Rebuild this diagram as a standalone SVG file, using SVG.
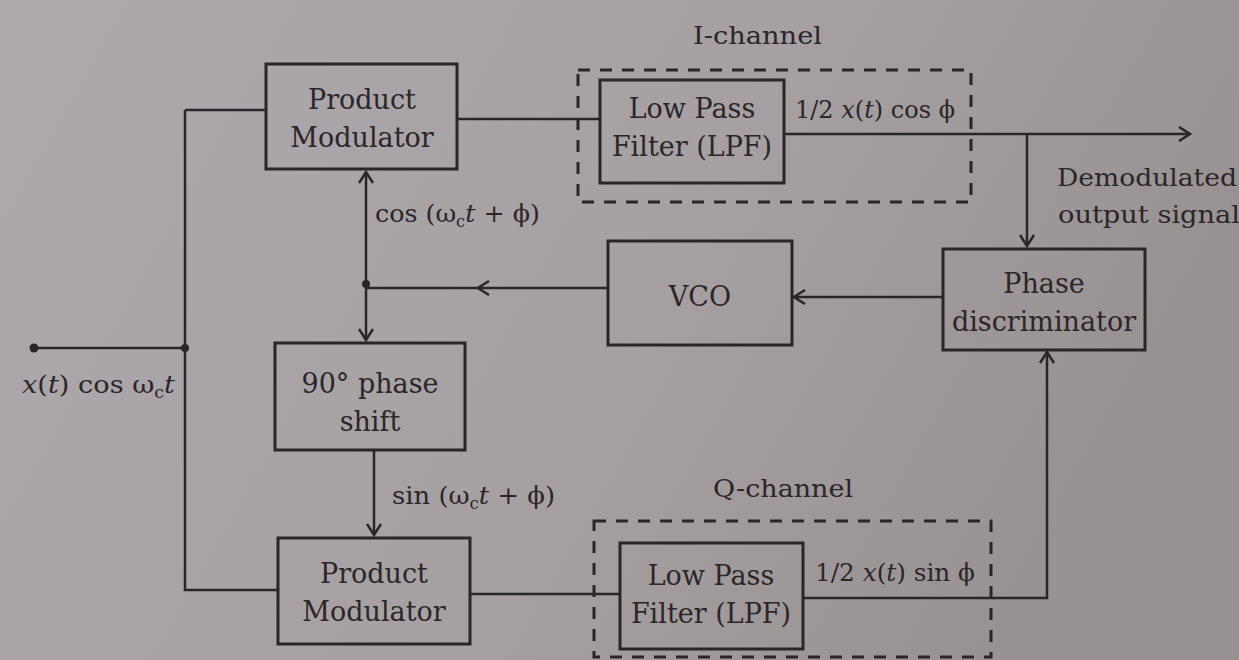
<svg xmlns="http://www.w3.org/2000/svg" width="1239" height="660" viewBox="0 0 1239 660">
<defs>
<linearGradient id="bg" x1="0" y1="0" x2="1" y2="0.3">
<stop offset="0" stop-color="#aea9ad"/>
<stop offset="0.6" stop-color="#a6a0a2"/>
<stop offset="1" stop-color="#999293"/>
</linearGradient>
<marker id="arr" viewBox="-12 -8 14 16" refX="0" refY="0" markerWidth="14" markerHeight="16" markerUnits="userSpaceOnUse" orient="auto-start-reverse">
<path d="M-11,-7 L0,0 L-11,7" fill="none" stroke="#2a2526" stroke-width="2.5"/>
</marker>
<style>
.box{fill:none;stroke:#2a2526;stroke-width:3}
.dash{fill:none;stroke:#2a2526;stroke-width:3;stroke-dasharray:12 10}
.ln{fill:none;stroke:#2a2526;stroke-width:2.5}
.t{font-family:"DejaVu Serif","Liberation Serif",serif;font-size:27px;fill:#2b2628;text-anchor:middle}
.lb{font-family:"DejaVu Serif","Liberation Serif",serif;font-size:25px;fill:#2b2628}
.it{font-style:italic}
.sub{font-size:16px}
</style>
</defs>
<rect x="0" y="0" width="1239" height="660" fill="url(#bg)"/>

<g id="connectors">
<path class="ln" d="M185,110 H266"/>
<path class="ln" d="M185,110 V590 H278"/>
<path class="ln" d="M34,348 H185"/>
<circle cx="34" cy="348" r="4.5" fill="#2a2526"/>
<circle cx="185" cy="348" r="4" fill="#2a2526"/>
<path class="ln" d="M457,119 H600"/>
<path class="ln" d="M784,134 H1190" marker-end="url(#arr)"/>
<path class="ln" d="M1027,134 V246" marker-end="url(#arr)"/>
<path class="ln" d="M943,297 H794" marker-end="url(#arr)"/>
<path class="ln" d="M608,288 H478" marker-end="url(#arr)"/>
<path class="ln" d="M480,288 H366"/>
<circle cx="366" cy="284" r="4" fill="#2a2526"/>
<path class="ln" d="M366,172 V340" marker-start="url(#arr)" marker-end="url(#arr)"/>
<path class="ln" d="M374,451 V535" marker-end="url(#arr)"/>
<path class="ln" d="M470,594 H620"/>
<path class="ln" d="M803,598 H1047 V352" marker-end="url(#arr)"/>
</g>

<g id="i-channel">
<rect class="dash" x="578" y="70" width="393" height="132"/>
<text class="lb" x="693" y="44" textLength="129" lengthAdjust="spacingAndGlyphs">I-channel</text>
</g>
<g id="q-channel">
<rect class="dash" x="594" y="521" width="397" height="136"/>
<text class="lb" x="713" y="497" textLength="140" lengthAdjust="spacingAndGlyphs">Q-channel</text>
</g>

<g id="pm-top">
<rect class="box" x="266" y="64" width="191" height="105"/>
<text class="t" x="362" y="109">Product</text>
<text class="t" x="362" y="147">Modulator</text>
</g>
<g id="lpf-i">
<rect class="box" x="600" y="80" width="184" height="103"/>
<text class="t" x="692" y="118">Low Pass</text>
<text class="t" x="692" y="156">Filter (LPF)</text>
</g>
<g id="vco">
<rect class="box" x="608" y="241" width="184" height="104"/>
<text class="t" x="700" y="306">VCO</text>
</g>
<g id="phase-disc">
<rect class="box" x="943" y="249" width="202" height="101"/>
<text class="t" x="1044" y="293">Phase</text>
<text class="t" x="1044" y="331">discriminator</text>
</g>
<g id="phase-shift">
<rect class="box" x="275" y="343" width="190" height="107"/>
<text class="t" x="370" y="393">90° phase</text>
<text class="t" x="370" y="431">shift</text>
</g>
<g id="pm-bottom">
<rect class="box" x="278" y="538" width="192" height="106"/>
<text class="t" x="374" y="583">Product</text>
<text class="t" x="374" y="621">Modulator</text>
</g>
<g id="lpf-q">
<rect class="box" x="620" y="543" width="183" height="106"/>
<text class="t" x="711" y="585">Low Pass</text>
<text class="t" x="711" y="623">Filter (LPF)</text>
</g>

<g id="labels">
<text class="lb" x="795" y="118" textLength="160" lengthAdjust="spacingAndGlyphs">1/2 <tspan class="it">x</tspan>(<tspan class="it">t</tspan>) cos ϕ</text>
<text class="lb" x="1057" y="186" textLength="180" lengthAdjust="spacingAndGlyphs">Demodulated</text>
<text class="lb" x="1058" y="223" textLength="182" lengthAdjust="spacingAndGlyphs">output signal</text>
<text class="lb" x="375" y="222" textLength="165" lengthAdjust="spacingAndGlyphs">cos (ω<tspan class="sub" dy="5">c</tspan><tspan class="it" dy="-5">t</tspan> + ϕ)</text>
<text class="lb" x="392" y="504" textLength="163" lengthAdjust="spacingAndGlyphs">sin (ω<tspan class="sub" dy="5">c</tspan><tspan class="it" dy="-5">t</tspan> + ϕ)</text>
<text class="lb" x="22" y="393" textLength="153" lengthAdjust="spacingAndGlyphs"><tspan class="it">x</tspan>(<tspan class="it">t</tspan>) cos ω<tspan class="sub" dy="5">c</tspan><tspan class="it" dy="-5">t</tspan></text>
<text class="lb" x="815" y="581" textLength="160" lengthAdjust="spacingAndGlyphs">1/2 <tspan class="it">x</tspan>(<tspan class="it">t</tspan>) sin ϕ</text>
</g>
</svg>
